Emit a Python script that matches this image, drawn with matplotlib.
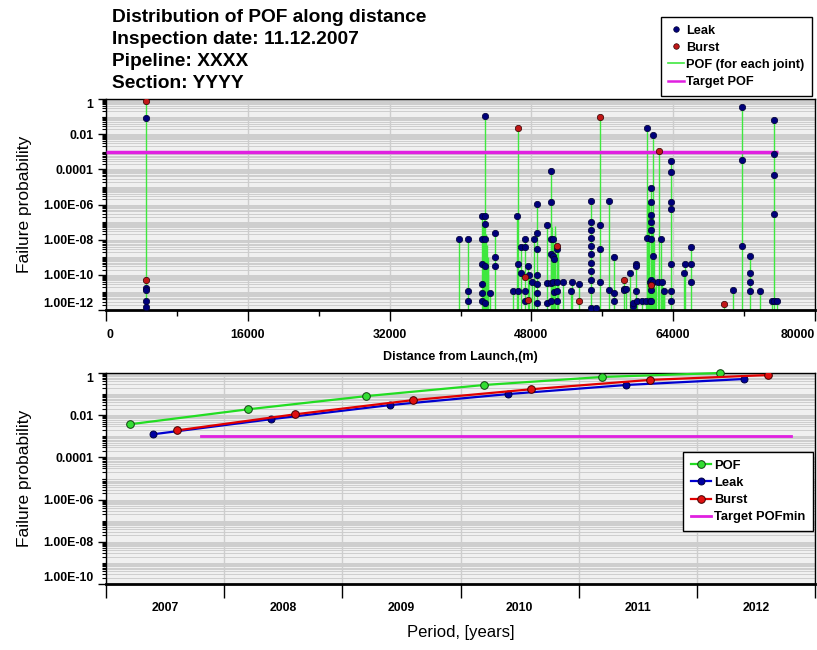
import numpy as np
import matplotlib
matplotlib.use("Agg")
import matplotlib.pyplot as plt
from matplotlib.lines import Line2D
from matplotlib.ticker import FixedLocator, FixedFormatter, LogLocator, NullFormatter

plt.rcParams['font.family'] = ['Liberation Sans', 'DejaVu Sans']

# ---------------- top chart: POF of each joint along the pipeline ----------------
# distance of joint (m) and the leak POF values found at that joint
leak_dist = [4520, 39780, 40900, 42375, 42710, 43280, 43840, 45880, 46330, 46440,
             46780, 47230, 47570, 47690, 48020, 48250, 48590, 49720, 50170, 50400,
             50510, 50850, 51530, 52430, 52550, 53340, 54690, 55260, 55710, 56730,
             57290, 58420, 58650, 59100, 59440, 59780, 59890, 60460, 60910, 61020,
             61360, 61470, 61700, 62260, 62600, 62720, 62940, 63730, 65200, 65310,
             65990, 70740, 71760, 72660, 73790, 75150, 75370, 75710]
leak_pof = [
    [0.083, 1.8e-11, 1.4e-11, 3.2e-12, 1.5e-12],
    [1.1e-8],
    [1.1e-8, 1.2e-11, 3.2e-12],
    [2.2e-7, 1.1e-8, 4.1e-10, 3.0e-11, 9.1e-12, 3.2e-12],
    [0.11, 2.2e-7, 7.8e-8, 1.1e-8, 3.2e-10, 2.5e-12],
    [9.1e-12],
    [2.4e-8, 1.0e-9, 3.2e-10],
    [1.2e-11],
    [2.2e-7],
    [4.1e-10, 1.2e-11],
    [3.8e-9, 1.3e-10],
    [1.1e-8, 3.8e-9, 1.2e-11, 3.2e-12],
    [3.2e-10],
    [1.0e-10],
    [3.9e-11],
    [1.1e-8],
    [1.1e-6, 2.4e-8, 3.0e-9, 1.0e-10, 3.0e-11, 9.1e-12, 2.5e-12],
    [6.8e-8, 3.4e-11, 2.5e-12],
    [7.9e-5, 1.4e-6, 1.1e-8, 1.5e-9, 3.4e-11, 3.2e-12],
    [1.1e-8, 1.2e-9, 3.9e-11],
    [7.9e-10, 1.0e-11],
    [3.0e-9, 3.9e-11, 1.2e-11, 3.2e-12],
    [3.9e-11],
    [1.2e-11],
    [3.9e-11],
    [3.0e-11],
    [1.6e-6, 1.0e-7, 3.5e-8, 1.2e-8, 4.4e-9, 1.5e-9, 4.7e-10, 1.7e-10, 5.0e-11, 1.4e-11, 1.3e-12],
    [1.3e-12],
    [6.8e-8, 3.0e-9, 3.9e-11],
    [1.6e-6, 1.4e-11],
    [1.0e-9, 9.1e-12, 3.2e-12],
    [1.5e-11, 1.4e-11],
    [1.5e-11],
    [1.3e-10],
    [1.7e-12, 2.5e-12],
    [4.1e-10, 3.2e-10, 1.2e-11],
    [3.2e-12],
    [3.2e-12],
    [3.2e-12],
    [0.022, 1.2e-8],
    [3.9e-11, 3.2e-12],
    [8.7e-6, 1.4e-6, 2.5e-7, 1.0e-7, 3.5e-8, 1.1e-8, 5.0e-11, 1.4e-11, 3.2e-12],
    [8.9e-3, 1.2e-9, 3.9e-11],
    [3.9e-11],
    [1.1e-8],
    [3.9e-11],
    [1.2e-11],
    [3.0e-4, 7.1e-5, 1.4e-6, 5.5e-7, 4.1e-10, 1.2e-11, 3.2e-12],
    [1.3e-10],
    [4.1e-10],
    [3.8e-9, 4.1e-10, 3.9e-11],
    [1.4e-11],
    [0.35, 3.4e-4, 4.4e-9],
    [1.2e-9, 1.3e-10, 3.9e-11, 1.2e-11],
    [1.2e-11],
    [3.2e-12],
    [0.065, 7.4e-4, 4.8e-5, 2.9e-7, 3.2e-12],
    [3.2e-12],
]

burst_dist = [4520, 4520, 46440, 47230, 47570, 50850, 53340, 55710, 58420, 61470, 62380, 69720]
burst_pof = [0.78, 5.0e-11, 0.022, 7.4e-11, 3.7e-12, 4.4e-9, 3.2e-12, 0.095, 5.0e-11, 2.6e-11, 1.1e-3, 2.2e-12]

# joints whose markers sit below the axis, only their POF stem shows
extra_dist = [42500, 42600, 42850, 42950, 43050, 43150, 50250, 50300, 50650, 50700,
              50950, 51050, 61100, 61200, 61300, 61550, 61600, 61800, 62000, 62100,
              62450, 62800, 63000]
extra_pof = [1.0e-7, 2.0e-7, 2.0e-8, 5.0e-9, 1.0e-9, 3.0e-10, 8.0e-8, 5.0e-8, 6.0e-8, 3.0e-8,
             5.0e-9, 1.0e-9, 1.0e-6, 1.5e-6, 1.2e-6, 1.0e-6, 3.0e-7, 1.0e-8, 2.0e-11, 3.0e-11,
             1.0e-11, 2.0e-11, 1.0e-11]

target_pof = 1.0e-3
target_end = 75800

# ---------------- bottom chart: POF growth over the years ----------------
years = [2007, 2008, 2009, 2010, 2011, 2012]
pof_t = [2006.7, 2007.7, 2008.7, 2009.7, 2010.7, 2011.7]
pof_vals = [3.7e-3, 1.9e-2, 8.0e-2, 0.27, 0.65, 1.0]
leak_t = [2006.9, 2007.9, 2008.9, 2009.9, 2010.9, 2011.9]
leak_vals = [1.25e-3, 6.5e-3, 3.0e-2, 0.10, 0.27, 0.52]
burst_t = [2007.1, 2008.1, 2009.1, 2010.1, 2011.1, 2012.1]
burst_vals = [1.9e-3, 1.1e-2, 5.2e-2, 0.17, 0.47, 0.80]
target_t = [2007.3, 2012.3]

GRID = '#cdcdcd'
BG = '#f0f0f0'
TICK_SIZE = 8.8


def pof_label(v):
    """1, 0.01, 0.0001 and then 1.00E-06 style"""
    if v >= 1e-4:
        return f'{v:g}'
    return f'{v:.2E}'


def style_log_axis(ax, lo_exp):
    ax.set_yscale('log')
    ax.set_ylim(10.0 ** lo_exp, 1.0)
    majors = [10.0 ** e for e in range(lo_exp, 1, 2)]
    ax.yaxis.set_major_locator(FixedLocator(majors))
    ax.yaxis.set_major_formatter(FixedFormatter([pof_label(v) for v in majors]))
    ax.yaxis.set_minor_locator(LogLocator(base=10, subs=np.arange(1, 10), numticks=200))
    ax.yaxis.set_minor_formatter(NullFormatter())
    ax.tick_params(axis='y', which='major', direction='out', length=6, width=1, pad=3)
    ax.tick_params(axis='y', which='minor', direction='out', length=3, width=0.8)
    for lab in ax.get_yticklabels():
        lab.set_fontsize(TICK_SIZE)
        lab.set_fontweight('bold')
    # end labels are kept inside the axis, like the original software does
    ticks = ax.yaxis.get_major_ticks()
    ticks[0].label1.set_verticalalignment('bottom')
    ticks[-1].label1.set_verticalalignment('top')
    ax.grid(True, which='both', axis='y', color=GRID, lw=0.7)
    ax.set_facecolor(BG)
    for s in ax.spines.values():
        s.set_color('black')
        s.set_linewidth(1)
    ax.spines['bottom'].set_linewidth(2)
    ax.set_axisbelow(True)
    ax.set_ylabel('Failure probability', fontsize=12.5)
    ax.yaxis.set_label_coords(-0.104, 0.5)


fig = plt.figure(figsize=(8.17, 6.5), dpi=100)
ax1 = fig.add_axes([106 / 817, 1 - 310 / 650, 709 / 817, 211 / 650])
ax2 = fig.add_axes([106 / 817, 1 - 584 / 650, 709 / 817, 211 / 650])

# ---- top ----
style_log_axis(ax1, -12)
ax1.set_xlim(0, 80000)
ax1.xaxis.set_major_locator(FixedLocator([0, 16000, 32000, 48000, 64000, 80000]))
ax1.xaxis.set_minor_locator(FixedLocator([8000, 24000, 40000, 56000, 72000]))
ax1.tick_params(axis='x', which='major', direction='out', length=8, width=1, pad=6,
                labelsize=TICK_SIZE)
ax1.tick_params(axis='x', which='minor', direction='out', length=4, width=1)
for lab in ax1.get_xticklabels():
    lab.set_fontweight('bold')
xt = ax1.xaxis.get_major_ticks()
xt[0].label1.set_horizontalalignment('left')
xt[-1].label1.set_horizontalalignment('right')
ax1.grid(True, which='major', axis='x', color=GRID, lw=1)

# stems: POF of each joint = highest value at that position
stem_top = {}
for d, vals in zip(leak_dist, leak_pof):
    stem_top[d] = max(stem_top.get(d, 0), max(vals))
for d, v in zip(burst_dist, burst_pof):
    stem_top[d] = max(stem_top.get(d, 0), v)
for d, v in zip(extra_dist, extra_pof):
    stem_top[d] = max(stem_top.get(d, 0), v)
sx = list(stem_top.keys())
ax1.vlines(sx, 1e-13, [stem_top[d] for d in sx], color='#3fe83f', lw=1, zorder=2)

ax1.hlines(target_pof, 0, target_end, color='#e020e0', lw=2.5, zorder=3)

lx = [d for d, vals in zip(leak_dist, leak_pof) for _ in vals]
ly = [v for vals in leak_pof for v in vals]
ax1.plot(lx, ly, 'o', ls='none', ms=4.6, mfc='#00007a', mec='#000030', mew=0.5, zorder=4)
ax1.plot(burst_dist, burst_pof, 'o', ls='none', ms=4.6, mfc='#c01818', mec='#300000',
         mew=0.5, zorder=5)

ax1.set_xlabel('Distance from Launch,(m)', fontsize=9, fontweight='bold')
ax1.xaxis.set_label_coords(0.5, -0.195)

# titles
title_lines = ['Distribution of POF along distance', 'Inspection date: 11.12.2007',
               'Pipeline: XXXX', 'Section: YYYY']
for i, t in enumerate(title_lines):
    fig.text(112 / 817, 1 - (17 + 22 * i) / 650, t, fontsize=13.8, fontweight='bold',
             ha='left', va='center')

top_handles = [
    Line2D([], [], ls='none', marker='o', ms=4, mfc='#00007a', mec='#000030', mew=0.5),
    Line2D([], [], ls='none', marker='o', ms=4, mfc='#c01818', mec='#300000', mew=0.5),
    Line2D([], [], color='#3fe83f', lw=1.2),
    Line2D([], [], color='#e020e0', lw=1.8),
]
leg1 = fig.legend(top_handles, ['Leak', 'Burst', 'POF (for each joint)', 'Target POF'],
                  loc='upper right', bbox_to_anchor=(812 / 817, 1 - 17 / 650),
                  frameon=True, fancybox=False, edgecolor='black', framealpha=1,
                  prop=dict(size=9.2, weight='bold'), handlelength=1.2,
                  handletextpad=0.2, labelspacing=0.4, borderpad=0.6, borderaxespad=0)
leg1.get_frame().set_linewidth(1)

# ---- bottom ----
style_log_axis(ax2, -10)
ax2.set_xlim(2006.5, 2012.5)
ax2.xaxis.set_major_locator(FixedLocator([y - 0.5 for y in years] + [years[-1] + 0.5]))
ax2.xaxis.set_major_formatter(NullFormatter())
ax2.xaxis.set_minor_locator(FixedLocator(years))
ax2.xaxis.set_minor_formatter(FixedFormatter([str(y) for y in years]))
ax2.tick_params(axis='x', which='major', direction='out', length=10, width=1)
ax2.tick_params(axis='x', which='minor', length=0, pad=13, labelsize=TICK_SIZE)
for lab in ax2.get_xticklabels(minor=True):
    lab.set_fontweight('bold')
ax2.grid(True, which='major', axis='x', color=GRID, lw=1)

ax2.plot(pof_t, pof_vals, '-o', color='#22dd22', lw=1.6, ms=5.5, mfc='#33dd33',
         mec='#104010', mew=0.7, label='POF', zorder=4, clip_on=False)
ax2.plot(leak_t, leak_vals, '-o', color='#0000d0', lw=1.6, ms=5, mfc='#0000a0',
         mec='#000040', mew=0.7, label='Leak', zorder=4)
ax2.plot(burst_t, burst_vals, '-o', color='#e00000', lw=1.6, ms=5.5, mfc='#e01010',
         mec='#400000', mew=0.7, label='Burst', zorder=5)
ax2.plot(target_t, [target_pof, target_pof], color='#e020e0', lw=2, label='Target POFmin',
         zorder=3)

ax2.set_xlabel('Period, [years]', fontsize=12)
ax2.xaxis.set_label_coords(0.5, -0.195)

leg2 = ax2.legend(loc='upper right', bbox_to_anchor=(0.997, 0.626), frameon=True,
                  fancybox=False, edgecolor='black', framealpha=1,
                  prop=dict(size=9.3, weight='bold'), handlelength=1.6,
                  handletextpad=0.2, labelspacing=0.4, borderpad=0.6, borderaxespad=0)
leg2.get_frame().set_linewidth(1)

fig.savefig('out.png', dpi=100, facecolor='white')
